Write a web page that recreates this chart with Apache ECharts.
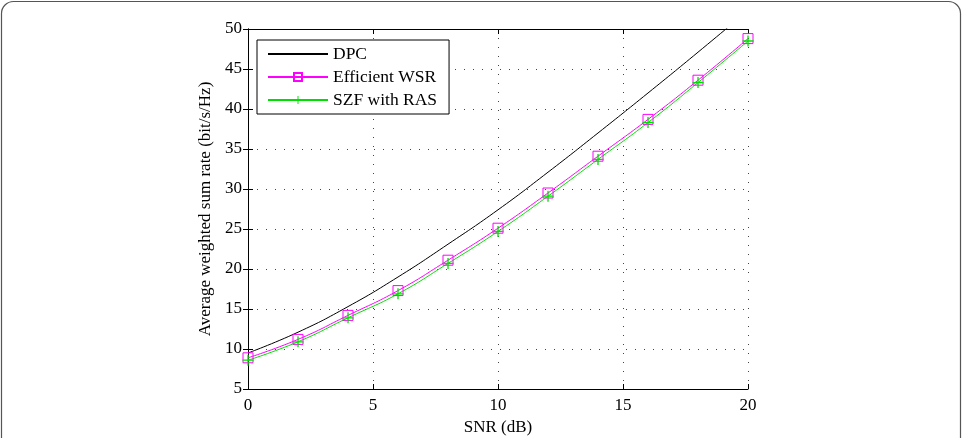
<!DOCTYPE html>
<html lang="en">
<head>
    <meta charset="UTF-8">
    <title>Weighted sum rate vs SNR</title>
    <script src="https://cdn.jsdelivr.net/npm/echarts@6/dist/echarts.min.js"></script>
    <style>
        html, body {margin: 0; padding: 0; background: #fff;}
    </style>
</head>
<body>
<div id="main" style="width: 963px;height:438px;"></div>
<script>
    // 数据
    var snr = [0, 2, 4, 6, 8, 10, 12, 14, 16, 18, 20];
    var dpc = [9.5, 12.1, 15.3, 19.0, 23.1, 27.4, 32.1, 37.0, 42.0, 47.1, 52.3];
    var efficientWsr = [8.9, 11.2, 14.2, 17.3, 21.1, 25.1, 29.5, 34.1, 38.7, 43.6, 48.8];
    var szfRas = [8.6, 10.9, 13.9, 16.9, 20.7, 24.7, 29.1, 33.7, 38.3, 43.3, 48.5];
    var xTicks = [0, 5, 10, 15, 20];
    var yTicks = [5, 10, 15, 20, 25, 30, 35, 40, 45, 50];

    var font = '"Liberation Serif", "DejaVu Serif", serif';
    var plus = 'path://M4.4,0H5.6V4.4H10V5.6H5.6V10H4.4V5.6H0V4.4H4.4Z';

    function pairs(ys) {
        return snr.map(function (x, i) { return [x, ys[i]]; });
    }

    var gridLine = {show: true, lineStyle: {color: '#444', type: [1, 8], width: 1}};
    var axisLine = {show: true, lineStyle: {color: '#000', width: 1}};
    var tick = {show: true, inside: true, length: 5, lineStyle: {color: '#000'}};

    var myChart = echarts.init(document.getElementById('main'));
    var option = {
        animation: false,
        backgroundColor: '#fff',
        graphic: [{
            type: 'rect',
            shape: {x: 1.5, y: 1.5, width: 959, height: 470, r: 12},
            style: {fill: 'none', stroke: '#555', lineWidth: 1.2},
            silent: true
        }],
        grid: {left: 248, top: 29, width: 500, height: 360, outerBoundsMode: 'none', containLabel: false},
        legend: {
            orient: 'vertical',
            left: 257,
            top: 40,
            itemWidth: 60,
            itemHeight: 10,
            itemGap: 5,
            padding: [5, 12, 5, 10],
            backgroundColor: '#fff',
            borderColor: '#000',
            borderWidth: 1,
            textStyle: {fontFamily: font, fontSize: 17.5, color: '#000'},
            data: [
                {name: 'DPC', itemStyle: {opacity: 0}},
                'Efficient WSR',
                'SZF with RAS'
            ]
        },
        xAxis: [{
            type: 'value',
            min: xTicks[0], max: xTicks[xTicks.length - 1], interval: 5,
            name: 'SNR (dB)',
            nameLocation: 'middle',
            nameGap: 28,
            nameTextStyle: {fontFamily: font, fontSize: 17, color: '#000'},
            axisLine: axisLine,
            axisTick: tick,
            axisLabel: {fontFamily: font, fontSize: 17, color: '#000', margin: 8},
            splitLine: gridLine
        }, {
            type: 'value', position: 'top',
            min: xTicks[0], max: xTicks[xTicks.length - 1], interval: 5,
            axisLine: axisLine, axisTick: tick,
            axisLabel: {show: false}, splitLine: {show: false}
        }],
        yAxis: [{
            type: 'value',
            min: yTicks[0], max: yTicks[yTicks.length - 1], interval: 5,
            name: 'Average weighted sum rate (bit/s/Hz)',
            nameLocation: 'middle',
            nameGap: 34,
            nameTextStyle: {fontFamily: font, fontSize: 17, color: '#000'},
            axisLine: axisLine,
            axisTick: tick,
            axisLabel: {fontFamily: font, fontSize: 17, color: '#000', margin: 6},
            splitLine: gridLine
        }, {
            type: 'value', position: 'right',
            min: yTicks[0], max: yTicks[yTicks.length - 1], interval: 5,
            axisLine: axisLine, axisTick: tick,
            axisLabel: {show: false}, splitLine: {show: false}
        }],
        series: [{
            name: 'DPC',
            type: 'line',
            smooth: true,
            clip: true,
            showSymbol: false,
            symbol: 'none',
            color: '#000',
            lineStyle: {color: '#000', width: 1},
            data: pairs(dpc)
        }, {
            name: 'Efficient WSR',
            type: 'line',
            smooth: true,
            symbol: 'rect',
            symbolSize: 10,
            color: '#ff00ff',
            itemStyle: {color: 'rgba(0,0,0,0)', borderColor: '#ff00ff', borderWidth: 1},
            lineStyle: {color: '#ff00ff', width: 1},
            data: pairs(efficientWsr)
        }, {
            name: 'SZF with RAS',
            type: 'line',
            smooth: true,
            symbol: plus,
            symbolSize: 11,
            color: '#00e000',
            itemStyle: {color: '#00e000'},
            lineStyle: {color: '#00e000', width: 1},
            data: pairs(szfRas)
        }]
    };
    myChart.setOption(option);
</script>
</body>
</html>
